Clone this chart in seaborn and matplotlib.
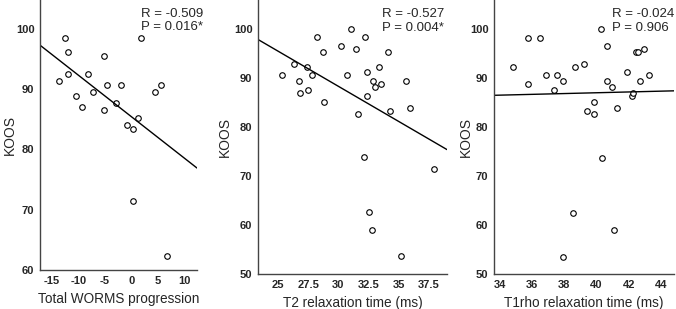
"""
KOOS vs. cartilage measures: three scatter panels with linear fit
"""

import numpy as np
import pandas as pd
import matplotlib
matplotlib.use('Agg')
import matplotlib.pyplot as plt
import seaborn as sns

sns.set_style('white')
plt.rcParams['font.family'] = ['Liberation Sans', 'DejaVu Sans']

# Panel 1: Total WORMS progression
worms_x = [-12.5, -12.0, -12.0, -13.6, -10.45, -9.3, -8.25, -7.2, -5.1, -4.55, -5.1,
           -3.0, -1.95, -0.9, 0.25, 1.25, 1.8, 0.2, 4.45, 5.55, 6.6]
worms_y = [98.5, 96.1, 92.6, 91.4, 88.9, 87.1, 92.6, 89.5, 95.5, 90.75, 86.5,
           87.7, 90.75, 84.0, 83.4, 85.25, 98.5, 71.4, 89.5, 90.75, 62.4]

# Panel 2: T2 relaxation time (ms)
t2_x = [25.35, 26.35, 26.75, 26.85, 27.4, 27.5, 27.85, 28.25, 28.7, 28.85, 30.25,
        30.75, 31.05, 31.45, 31.6, 32.25, 32.35, 32.35, 32.15, 32.55, 32.8, 32.9,
        33.05, 33.35, 33.55, 34.15, 34.25, 35.2, 35.6, 35.95, 37.95]
t2_y = [90.6, 93.0, 89.4, 87.0, 92.4, 87.6, 90.6, 98.4, 95.3, 85.2, 96.5,
        90.6, 100.1, 95.9, 82.8, 98.4, 91.25, 86.4, 73.9, 62.6, 58.9, 89.5,
        88.2, 92.4, 88.8, 95.3, 83.4, 53.6, 89.4, 84.0, 71.4]

# Panel 3: T1rho relaxation time (ms)
t1rho_x = [34.85, 35.75, 35.75, 36.5, 36.9, 37.35, 37.55, 37.9, 38.65, 39.2, 38.55,
           37.9, 39.4, 39.85, 39.85, 40.3, 40.35, 40.65, 40.65, 40.95, 41.1, 41.3,
           41.9, 42.2, 42.25, 42.45, 42.6, 42.7, 42.95, 43.25]
t1rho_y = [92.4, 98.3, 88.8, 98.3, 90.6, 87.6, 90.6, 89.4, 92.4, 93.0, 62.5,
           53.5, 83.4, 85.2, 82.7, 100.1, 73.8, 96.5, 89.4, 88.2, 58.9, 83.9,
           91.2, 86.4, 87.0, 95.3, 95.3, 89.4, 95.9, 90.6]

stats_text = ['R = -0.509\nP = 0.016*', 'R = -0.527\nP = 0.004*', 'R = -0.024\nP = 0.906']
xlabels = ['Total WORMS progression', 'T2 relaxation time (ms)', 'T1rho relaxation time (ms)']

panels = [
    dict(x=worms_x, y=worms_y, xlim=(-17.2, 12.3), ylim=(60, 104.8),
         xticks=[-15, -10, -5, 0, 5, 10], yticks=[60, 70, 80, 90, 100],
         rect=[40, 270, 157, 270], txt_x=0.645, lab_x=-0.15),
    dict(x=t2_x, y=t2_y, xlim=(23.35, 39.0), ylim=(50, 106),
         xticks=[25, 27.5, 30, 32.5, 35, 37.5], yticks=[50, 60, 70, 80, 90, 100],
         rect=[258, 274, 189, 274], txt_x=0.655, lab_x=-0.14),
    dict(x=t1rho_x, y=t1rho_y, xlim=(33.65, 44.8), ylim=(50, 106),
         xticks=[34, 36, 38, 40, 42, 44], yticks=[50, 60, 70, 80, 90, 100],
         rect=[494, 274, 180, 274], txt_x=0.655, lab_x=-0.12),
]

W, H = 676, 309
fig = plt.figure(figsize=(W / 100, H / 100), dpi=100)

for i, p in enumerate(panels):
    left, bottom_px, width, height = p['rect']
    ax = fig.add_axes([left / W, (H - bottom_px) / H, width / W, height / H])
    ax.set_xlim(*p['xlim'])
    ax.set_ylim(*p['ylim'])
    df = pd.DataFrame({'x': p['x'], 'y': p['y']})
    sns.regplot(data=df, x='x', y='y', ax=ax, ci=None, truncate=False,
                scatter_kws=dict(s=16, facecolors='white', edgecolors='black',
                                 linewidths=0.8, alpha=1),
                line_kws=dict(color='black', lw=1.0))
    ax.set_xlim(*p['xlim'])
    ax.set_ylim(*p['ylim'])
    ax.set_xticks(p['xticks'])
    ax.set_xticklabels([f'{t:g}' for t in p['xticks']], fontweight='bold', fontsize=8)
    ax.set_yticks(p['yticks'])
    ax.set_yticklabels([str(t) for t in p['yticks']], fontweight='bold', fontsize=8)
    ax.tick_params(length=0, pad=4)
    sns.despine(ax=ax)
    for s in ['left', 'bottom']:
        ax.spines[s].set_color('#444444')
        ax.spines[s].set_linewidth(1.0)
    ax.set_xlabel(xlabels[i], fontsize=9.8, labelpad=5)
    ax.set_ylabel('KOOS', fontsize=10)
    ax.yaxis.set_label_coords(p['lab_x'], 0.5)
    ax.text(p['txt_x'], 0.97, stats_text[i], transform=ax.transAxes,
            ha='left', va='top', fontsize=9.5, linespacing=1.15)

plt.savefig('out.png', dpi=100)
plt.close()
